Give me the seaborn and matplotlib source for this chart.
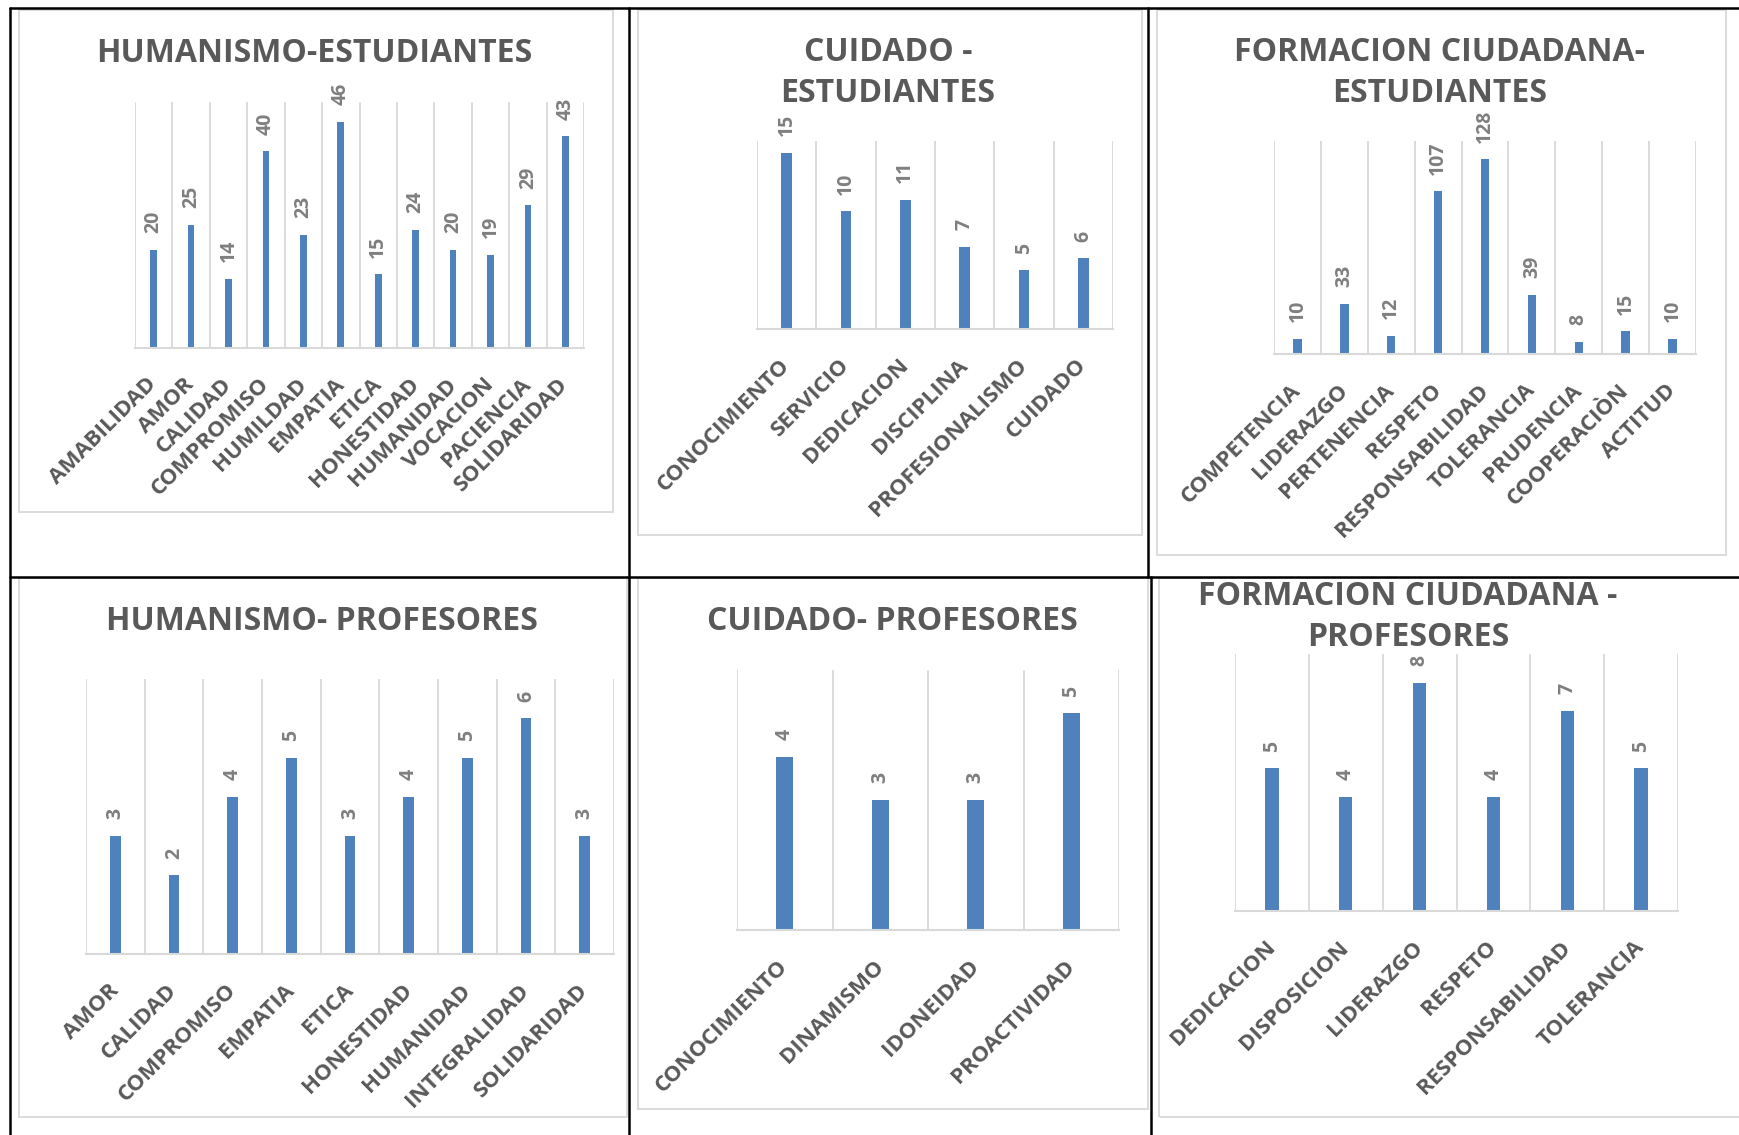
import numpy as np
import pandas as pd
import matplotlib
matplotlib.use('Agg')
import matplotlib.pyplot as plt
import seaborn as sns
from matplotlib.lines import Line2D
from matplotlib.patches import Rectangle

# ---------------- data ----------------
hum_est_cats = ["AMABILIDAD", "AMOR", "CALIDAD", "COMPROMISO", "HUMILDAD", "EMPATIA",
                "ETICA", "HONESTIDAD", "HUMANIDAD", "VOCACION", "PACIENCIA", "SOLIDARIDAD"]
hum_est_vals = [20, 25, 14, 40, 23, 46, 15, 24, 20, 19, 29, 43]

cui_est_cats = ["CONOCIMIENTO", "SERVICIO", "DEDICACION", "DISCIPLINA", "PROFESIONALISMO", "CUIDADO"]
cui_est_vals = [15, 10, 11, 7, 5, 6]

for_est_cats = ["COMPETENCIA", "LIDERAZGO", "PERTENENCIA", "RESPETO", "RESPONSABILIDAD",
                "TOLERANCIA", "PRUDENCIA", "COOPERACIÒN", "ACTITUD"]
for_est_vals = [10, 33, 12, 107, 128, 39, 8, 15, 10]

hum_pro_cats = ["AMOR", "CALIDAD", "COMPROMISO", "EMPATIA", "ETICA", "HONESTIDAD",
                "HUMANIDAD", "INTEGRALIDAD", "SOLIDARIDAD"]
hum_pro_vals = [3, 2, 4, 5, 3, 4, 5, 6, 3]

cui_pro_cats = ["CONOCIMIENTO", "DINAMISMO", "IDONEIDAD", "PROACTIVIDAD"]
cui_pro_vals = [4, 3, 3, 5]

for_pro_cats = ["DEDICACION", "DISPOSICION", "LIDERAZGO", "RESPETO", "RESPONSABILIDAD", "TOLERANCIA"]
for_pro_vals = [5, 4, 8, 4, 7, 5]

titles = ["HUMANISMO-ESTUDIANTES", "CUIDADO -\nESTUDIANTES", "FORMACION CIUDADANA-\nESTUDIANTES",
          "HUMANISMO- PROFESORES", "CUIDADO- PROFESORES", "FORMACION CIUDADANA -\nPROFESORES"]

# ---------------- style ----------------
sns.set_theme(style='white')
plt.rcParams['font.family'] = ['Open Sans', 'DejaVu Sans']

BLUE = '#4F81BD'
GRID = '#d9d9d9'
TXT = '#595959'
LBL = '#7f7f7f'

W, H = 1739, 1135
fig = plt.figure(figsize=(W / 100, H / 100), dpi=100)
fig.patch.set_facecolor('white')


def fx(x):
    return x / W


def fy(y):
    return 1 - y / H


def frame(x0, y0, x1, y1):
    fig.add_artist(Rectangle((fx(x0), fy(y1)), fx(x1) - fx(x0), fy(y0) - fy(y1),
                             transform=fig.transFigure, fill=False, ec=GRID, lw=1.3, zorder=0))


def hline(y, x0, x1):
    fig.add_artist(Line2D([fx(x0), fx(x1)], [fy(y), fy(y)], transform=fig.transFigure,
                          color='black', lw=1.8, zorder=5))


def vline(x, y0, y1):
    fig.add_artist(Line2D([fx(x), fx(x)], [fy(y0), fy(y1)], transform=fig.transFigure,
                          color='black', lw=1.8, zorder=5))


def panel(cats, vals, box, ymax, title, tpos):
    x0, y0, x1, y1 = box
    ax = fig.add_axes([fx(x0), fy(y1), fx(x1) - fx(x0), fy(y0) - fy(y1)])
    df = pd.DataFrame({'cat': cats, 'val': vals})
    sns.barplot(data=df, x='cat', y='val', order=cats, ax=ax, color=BLUE,
                saturation=1, width=0.18, linewidth=0, errorbar=None)
    n = len(cats)
    ax.set_xlim(-0.5, n - 0.5)
    ax.set_ylim(0, ymax)
    ax.set_xlabel('')
    ax.set_ylabel('')
    ax.set_yticks([])
    ax.set_facecolor('none')
    for s in ['left', 'top', 'right']:
        ax.spines[s].set_visible(False)
    ax.spines['bottom'].set_color(GRID)
    ax.spines['bottom'].set_linewidth(1.5)
    ax.set_xticks(np.arange(n + 1) - 0.5, minor=True)
    ax.xaxis.grid(True, which='minor', color=GRID, lw=1.3)
    ax.xaxis.grid(False, which='major')
    ax.set_axisbelow(True)
    ax.set_xticks(np.arange(n))
    ax.set_xticklabels(cats, rotation=45, ha='right', va='center', rotation_mode='anchor',
                       fontsize=16, fontweight='bold', color=TXT)
    ax.tick_params(axis='x', which='both', length=0, pad=24)
    ax.bar_label(ax.containers[0], labels=[str(v) for v in vals], rotation=90,
                 padding=12, color=LBL, fontsize=14, fontweight='bold')
    fig.text(fx(tpos[0]), fy(tpos[1]), title, ha='center', va='center', fontsize=23,
             fontweight='bold', color=TXT, linespacing=1.3)
    return ax


# chart frames
frame(19, 10, 613, 512)
frame(638, 10, 1142, 535)
frame(1157, 10, 1726, 555)
frame(19, 578, 627, 1117)
frame(638, 578, 1148, 1109)
frame(1159, 578, 1760, 1117)

panel(hum_est_cats, hum_est_vals, (135, 102, 584, 348), 50, titles[0], (314, 53))
panel(cui_est_cats, cui_est_vals, (757, 141, 1113, 329), 16, titles[1], (888, 73))
panel(for_est_cats, for_est_vals, (1274, 141, 1696, 354), 140, titles[2], (1440, 73))
panel(hum_pro_cats, hum_pro_vals, (86, 679, 614, 954), 7, titles[3], (322, 621))
panel(cui_pro_cats, cui_pro_vals, (737, 670, 1119, 930), 6, titles[4], (892, 621))
panel(for_pro_cats, for_pro_vals, (1235, 654, 1678, 911), 9, titles[5], (1408, 617))

# table borders
hline(8, 10, W)
hline(577, 10, W)
vline(10, 8, H)
vline(629, 8, 577)
vline(1148, 8, 577)
vline(629, 577, H)
vline(1151, 577, H)

fig.savefig('out.png', dpi=100)
